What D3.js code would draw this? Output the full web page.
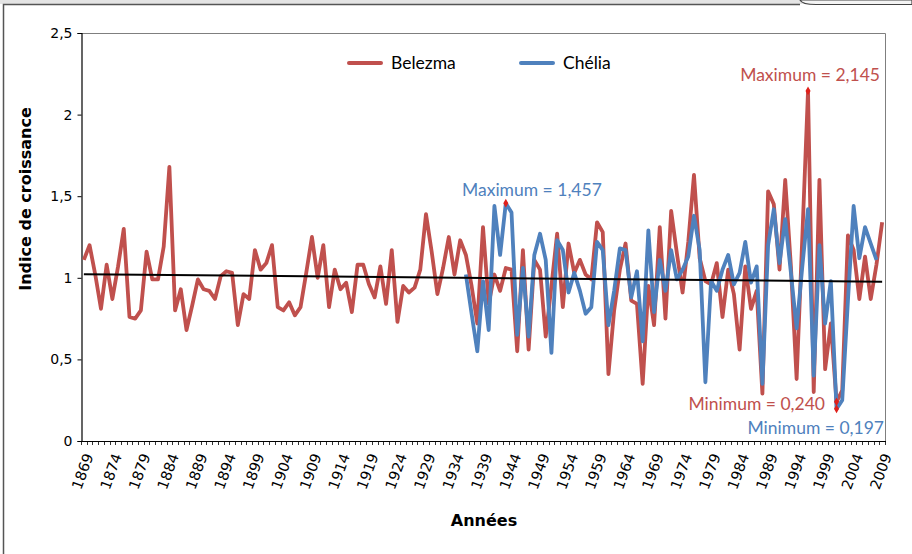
<!DOCTYPE html>
<html>
<head>
<meta charset="utf-8">
<script src="https://cdn.jsdelivr.net/npm/d3@7"></script>
<style>
    body { margin: 0; background: #fff; }
    #chart { width: 912px; height: 554px; }
</style>
</head>
<body>
<div id="chart"></div>
<script>

// Years on the category axis, and tick labels every 5 years
var years = d3.range(1869, 2010);
var tickYears = d3.range(1869, 2010, 5);

// Belezma growth index, 1869 - 2009
var belezma = [
    1.11, 1.20, 1.02, 0.81, 1.08, 0.87, 1.07, 1.30, 0.76, 0.75,
    0.80, 1.16, 0.99, 0.99, 1.19, 1.68, 0.80, 0.93, 0.68, 0.83,
    0.99, 0.93, 0.92, 0.87, 1.01, 1.04, 1.03, 0.71, 0.90, 0.87,
    1.17, 1.05, 1.09, 1.20, 0.82, 0.80, 0.85, 0.77, 0.82, 1.03,
    1.25, 1.00, 1.20, 0.82, 1.05, 0.93, 0.97, 0.79, 1.08, 1.08,
    0.96, 0.88, 1.07, 0.84, 1.17, 0.73, 0.95, 0.91, 0.94, 1.05,
    1.39, 1.16, 0.90, 1.06, 1.25, 1.02, 1.23, 1.14, 0.95, 0.72,
    1.31, 0.84, 1.02, 0.92, 1.06, 1.05, 0.55, 1.17, 0.56, 1.11,
    1.05, 0.64, 0.95, 1.27, 0.82, 1.21, 1.03, 1.11, 1.02, 0.99,
    1.34, 1.28, 0.41, 0.80, 1.05, 1.21, 0.86, 0.84, 0.35, 0.95,
    0.71, 1.31, 0.75, 1.41, 1.15, 0.91, 1.22, 1.63, 1.12, 0.98,
    0.96, 1.09, 0.76, 1.05, 0.90, 0.56, 1.07, 0.81, 0.92, 0.29,
    1.53, 1.45, 1.05, 1.60, 1.07, 0.38, 1.25, 2.145, 0.30, 1.60,
    0.44, 0.72, 0.24, 0.31, 1.26, 1.17, 0.87, 1.13, 0.87, 1.08,
    1.34
];

// Chélia growth index, 1936 - 2008
var cheliaYears = d3.range(1936, 2009);
var chelia = [
    1.02, 0.78, 0.55, 0.98, 0.68, 1.44, 1.14, 1.457, 1.40, 0.65,
    1.06, 0.64, 1.14, 1.27, 1.11, 0.54, 1.23, 1.17, 0.91, 1.03,
    0.92, 0.78, 0.82, 1.22, 1.17, 0.71, 0.92, 1.18, 1.17, 0.88,
    1.04, 0.61, 1.29, 0.79, 1.11, 0.92, 1.17, 0.99, 1.05, 1.13,
    1.38, 1.17, 0.36, 0.98, 0.92, 1.05, 1.14, 0.96, 1.03, 1.22,
    0.97, 1.07, 0.35, 1.20, 1.42, 1.09, 1.36, 1.03, 0.69, 1.07,
    1.42, 0.40, 1.20, 0.72, 0.98, 0.197, 0.25, 0.86, 1.44, 1.12,
    1.31, 1.21, 1.11
];

// trend line of Belezma, as read at the first and last year
var trendYears = [1869, 2009];
var trendValues = [1.022, 0.976];

var yTicks = [0, 0.5, 1, 1.5, 2, 2.5];

var seriesNames = ["Belezma", "Chélia"];
var seriesColors = ["#C0504D", "#4F81BD"];

// Max / min annotations
var noteText = ["Maximum = 2,145", "Maximum = 1,457", "Minimum = 0,240", "Minimum = 0,197"];
var noteYear = [1996, 1943, 2001, 2001];
var noteValue = [2.145, 1.457, 0.240, 0.197];
var noteSeries = [0, 1, 0, 1];


/*
 * GrowthChart - Object constructor function
 * @param _parentElement -- the HTML element in which to draw the chart
 */
GrowthChart = function(_parentElement) {
    this.parentElement = _parentElement;
    this.initVis();
};

GrowthChart.prototype.initVis = function() {
    var vis = this;

    vis.width = 912;
    vis.height = 554;
    vis.plot = { left: 81, right: 885, top: 33, bottom: 441 };

    vis.svg = d3.select(vis.parentElement).append("svg")
        .attr("width", vis.width)
        .attr("height", vis.height);

    vis.x = d3.scaleBand()
        .domain(years)
        .range([vis.plot.left, vis.plot.right]);

    vis.y = d3.scaleLinear()
        .domain([0, 2.5])
        .range([vis.plot.bottom, vis.plot.top]);

    vis.drawFrame();
    vis.drawAxes();
    vis.drawSeries();
    vis.drawNotes();
    vis.drawLegend();
};

GrowthChart.prototype.cx = function(year) {
    return this.x(year) + this.x.bandwidth() / 2;
};

GrowthChart.prototype.drawFrame = function() {
    var vis = this;

    // strip of the window above the chart box
    vis.svg.append("rect")
        .attr("x", 0).attr("y", 0)
        .attr("width", vis.width).attr("height", 4)
        .attr("fill", "#e4e4e4");
    vis.svg.append("path")
        .attr("d", "M800,0 Q802,4.5 816,4.5 L912,4.5 L912,0 Z")
        .attr("fill", "#f4f4f4")
        .attr("stroke", "#444")
        .attr("stroke-width", 1.2);

    vis.svg.append("path")
        .attr("d", "M3.5," + vis.height + " L3.5,4.5 L800,4.5")
        .attr("fill", "none")
        .attr("stroke", "#555")
        .attr("stroke-width", 1.5);

    // top and right border of the plot area
    vis.svg.append("path")
        .attr("d", "M" + vis.plot.left + "," + (vis.plot.top + 0.5) +
            " L" + (vis.plot.right + 0.5) + "," + (vis.plot.top + 0.5) +
            " L" + (vis.plot.right + 0.5) + "," + vis.plot.bottom)
        .attr("fill", "none")
        .attr("stroke", "#7f7f7f")
        .attr("stroke-width", 1);
};

GrowthChart.prototype.drawAxes = function() {
    var vis = this;

    // y axis
    var yAxis = d3.axisLeft(vis.y)
        .tickValues(yTicks)
        .tickSize(4)
        .tickPadding(5)
        .tickFormat(function(d) { return String(d).replace(".", ","); });

    var gy = vis.svg.append("g")
        .attr("transform", "translate(" + (vis.plot.left + 0.5) + ",0)")
        .call(yAxis);
    gy.select(".domain").attr("stroke", "#000").attr("stroke-width", 1.2);
    gy.selectAll("text")
        .attr("font-family", "DejaVu Sans, Verdana, sans-serif")
        .attr("font-size", 14)
        .attr("fill", "#000");

    // x axis: one small tick per year boundary
    var boundaries = years.map(function(d) { return vis.x(d); }).concat([vis.plot.right]);
    vis.svg.append("line")
        .attr("x1", vis.plot.left).attr("x2", vis.plot.right + 1)
        .attr("y1", vis.plot.bottom + 0.5).attr("y2", vis.plot.bottom + 0.5)
        .attr("stroke", "#000").attr("stroke-width", 1.2);
    vis.svg.append("g").selectAll("line")
        .data(boundaries)
        .enter().append("line")
        .attr("x1", function(d) { return Math.round(d) + 0.5; })
        .attr("x2", function(d) { return Math.round(d) + 0.5; })
        .attr("y1", vis.plot.bottom)
        .attr("y2", vis.plot.bottom + 4)
        .attr("stroke", "#000")
        .attr("stroke-width", 0.8);

    vis.svg.append("g").selectAll("text")
        .data(tickYears)
        .enter().append("text")
        .attr("transform", function(d) {
            return "translate(" + (vis.cx(d) + 5) + "," + (vis.plot.bottom + 13) + ") rotate(-70)";
        })
        .attr("text-anchor", "end")
        .attr("dy", "0.35em")
        .attr("font-family", "DejaVu Sans, Verdana, sans-serif")
        .attr("font-size", 14.5)
        .attr("fill", "#000")
        .text(function(d) { return d; });

    // axis titles
    vis.svg.append("text")
        .attr("transform", "translate(31," + 199 + ") rotate(-90)")
        .attr("text-anchor", "middle")
        .attr("font-family", "DejaVu Sans, Verdana, sans-serif")
        .attr("font-weight", "bold")
        .attr("font-size", 16)
        .text("Indice de croissance");

    vis.svg.append("text")
        .attr("x", 484).attr("y", 526)
        .attr("text-anchor", "middle")
        .attr("font-family", "DejaVu Sans, Verdana, sans-serif")
        .attr("font-weight", "bold")
        .attr("font-size", 16)
        .text("Années");
};

GrowthChart.prototype.drawSeries = function() {
    var vis = this;

    var line = d3.line()
        .x(function(d) { return vis.cx(d[0]); })
        .y(function(d) { return vis.y(d[1]); });

    vis.svg.append("path")
        .datum(years.map(function(d, i) { return [d, belezma[i]]; }))
        .attr("d", line)
        .attr("fill", "none")
        .attr("stroke", seriesColors[0])
        .attr("stroke-width", 3.8)
        .attr("stroke-linejoin", "round");

    vis.svg.append("path")
        .datum(cheliaYears.map(function(d, i) { return [d, chelia[i]]; }))
        .attr("d", line)
        .attr("fill", "none")
        .attr("stroke", seriesColors[1])
        .attr("stroke-width", 3.8)
        .attr("stroke-linejoin", "round");

    vis.svg.append("path")
        .datum(trendYears.map(function(d, i) { return [d, trendValues[i]]; }))
        .attr("d", line)
        .attr("fill", "none")
        .attr("stroke", "#000")
        .attr("stroke-width", 2);
};

GrowthChart.prototype.drawNotes = function() {
    var vis = this;

    // where each note is written (label placement only)
    var notePos = [[880, 81, "end"], [462, 196, "start"], [825, 410, "end"], [884, 434, "end"]];

    vis.svg.append("g").selectAll("path")
        .data(noteText)
        .enter().append("path")
        .attr("d", d3.symbol().type(d3.symbolDiamond).size(22))
        .attr("transform", function(d, i) {
            return "translate(" + vis.cx(noteYear[i]) + "," + vis.y(noteValue[i]) + ")";
        })
        .attr("fill", "#e0201b");

    vis.svg.append("g").selectAll("text")
        .data(noteText)
        .enter().append("text")
        .attr("x", function(d, i) { return notePos[i][0]; })
        .attr("y", function(d, i) { return notePos[i][1]; })
        .attr("text-anchor", function(d, i) { return notePos[i][2]; })
        .attr("font-family", "Lato, 'Open Sans', sans-serif")
        .attr("font-size", 17.5)
        .attr("fill", function(d, i) { return seriesColors[noteSeries[i]]; })
        .text(function(d) { return d; });
};

GrowthChart.prototype.drawLegend = function() {
    var vis = this;

    var legendX = [349, 521];
    var g = vis.svg.append("g").selectAll("g")
        .data(seriesNames)
        .enter().append("g")
        .attr("transform", function(d, i) { return "translate(" + legendX[i] + ",63)"; });

    g.append("line")
        .attr("x1", 0).attr("x2", 32)
        .attr("stroke", function(d, i) { return seriesColors[i]; })
        .attr("stroke-width", 4)
        .attr("stroke-linecap", "round");

    g.append("text")
        .attr("x", 42).attr("dy", "0.35em")
        .attr("font-family", "Lato, 'Open Sans', sans-serif")
        .attr("font-size", 17.5)
        .attr("fill", "#000")
        .text(function(d) { return d; });
};

var chart = new GrowthChart("#chart");

</script>
</body>
</html>
